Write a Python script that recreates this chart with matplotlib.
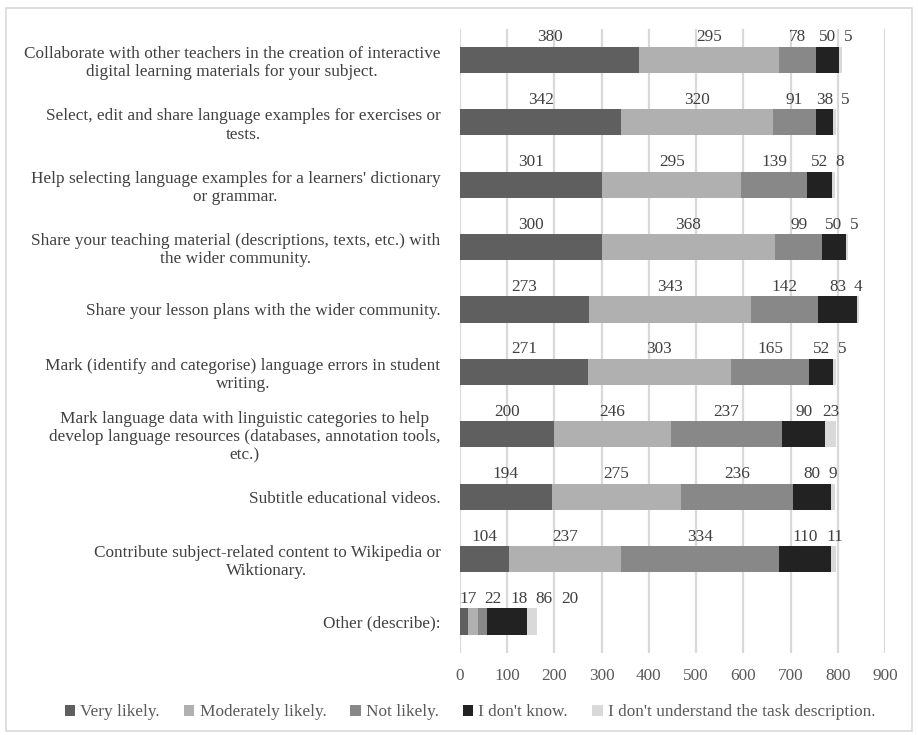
import matplotlib
matplotlib.use("Agg")
import matplotlib.pyplot as plt
from matplotlib.patches import Rectangle, Patch
import numpy as np

categories = [
    "Collaborate with other teachers in the creation of interactive\ndigital learning materials for your subject.",
    "Select, edit and share language examples for exercises or\ntests.",
    "Help selecting language examples for a learners' dictionary\nor grammar.",
    "Share your teaching material (descriptions, texts, etc.) with\nthe wider community.",
    "Share your lesson plans with the wider community.",
    "Mark (identify and categorise) language errors in student\nwriting.",
    "Mark language data with linguistic categories to help\ndevelop language resources (databases, annotation tools,\netc.)",
    "Subtitle educational videos.",
    "Contribute subject-related content to Wikipedia or\nWiktionary.",
    "Other (describe):",
]
series_names = ["Very likely.", "Moderately likely.", "Not likely.", "I don't know.",
                "I don't understand the task description."]
very_likely = [380, 342, 301, 300, 273, 271, 200, 194, 104, 17]
moderately_likely = [295, 320, 295, 368, 343, 303, 246, 275, 237, 22]
not_likely = [78, 91, 139, 99, 142, 165, 237, 236, 334, 18]
dont_know = [50, 38, 52, 50, 83, 52, 90, 80, 110, 86]
dont_understand = [5, 5, 8, 5, 4, 5, 23, 9, 11, 20]
xticks = [0, 100, 200, 300, 400, 500, 600, 700, 800, 900]

series = [very_likely, moderately_likely, not_likely, dont_know, dont_understand]
colors = ["#5f5f5f", "#b0b0b0", "#888888", "#222222", "#d9d9d9"]

plt.rcParams['font.family'] = ['Liberation Serif', 'DejaVu Serif']
FS = 12.4

fig = plt.figure(figsize=(9.18, 7.35), dpi=100)
ax = fig.add_axes([0.501, 0.112, 0.463, 0.849])

y = np.arange(len(categories))
h = 0.42
left = np.zeros(len(categories))
for vals, col, name in zip(series, colors, series_names):
    ax.barh(y, vals, left=left, height=h, color=col, label=name, zorder=3)
    left = left + np.array(vals)

# data labels above each segment, pushed apart to avoid overlap
px_per_unit = (0.463 * 918) / 900.0
for i in range(len(categories)):
    start = 0.0
    prev_right = -1e9
    for vals in series:
        v = vals[i]
        c = start + v / 2.0
        txt = str(v)
        w = (len(txt) * 9.2 + 7) / px_per_unit
        x = max(c, prev_right + w / 2.0, w / 2.0 - 10)
        prev_right = x + w / 2.0
        ax.annotate(txt, xy=(x, i - h / 2), xytext=(0, 1), textcoords="offset points",
                    ha="center", va="bottom", fontsize=FS, color="#404040", zorder=4)
        start += v

ax.set_xlim(0, 900)
ax.set_ylim(len(categories) - 0.5, -0.5)
ax.set_xticks(xticks)
ax.set_xticklabels([str(t) for t in xticks], fontsize=FS, color="#595959")
ax.set_yticks(y)
ax.set_yticklabels(categories, fontsize=FS, color="#404040", multialignment="center")
ax.tick_params(axis="both", length=0)
ax.tick_params(axis="x", pad=11)
ax.tick_params(axis="y", pad=14)
ax.xaxis.grid(True, color="#d9d9d9", linewidth=1.6, zorder=0)
ax.set_axisbelow(True)
for s in ax.spines.values():
    s.set_visible(False)

handles = [Patch(facecolor=c, edgecolor="none") for c in colors]
leg = fig.legend(handles, series_names, loc="center", bbox_to_anchor=(0.512, 0.031), ncol=5,
                 frameon=False, fontsize=FS, handlelength=0.6, handleheight=0.6,
                 handletextpad=0.3, columnspacing=1.4, labelcolor="#595959")

fig.patches.append(Rectangle((0.007, 0.006), 0.986, 0.983, transform=fig.transFigure,
                             fill=False, edgecolor="#d9d9d9", linewidth=1.2))

fig.savefig("out.png", dpi=100)
